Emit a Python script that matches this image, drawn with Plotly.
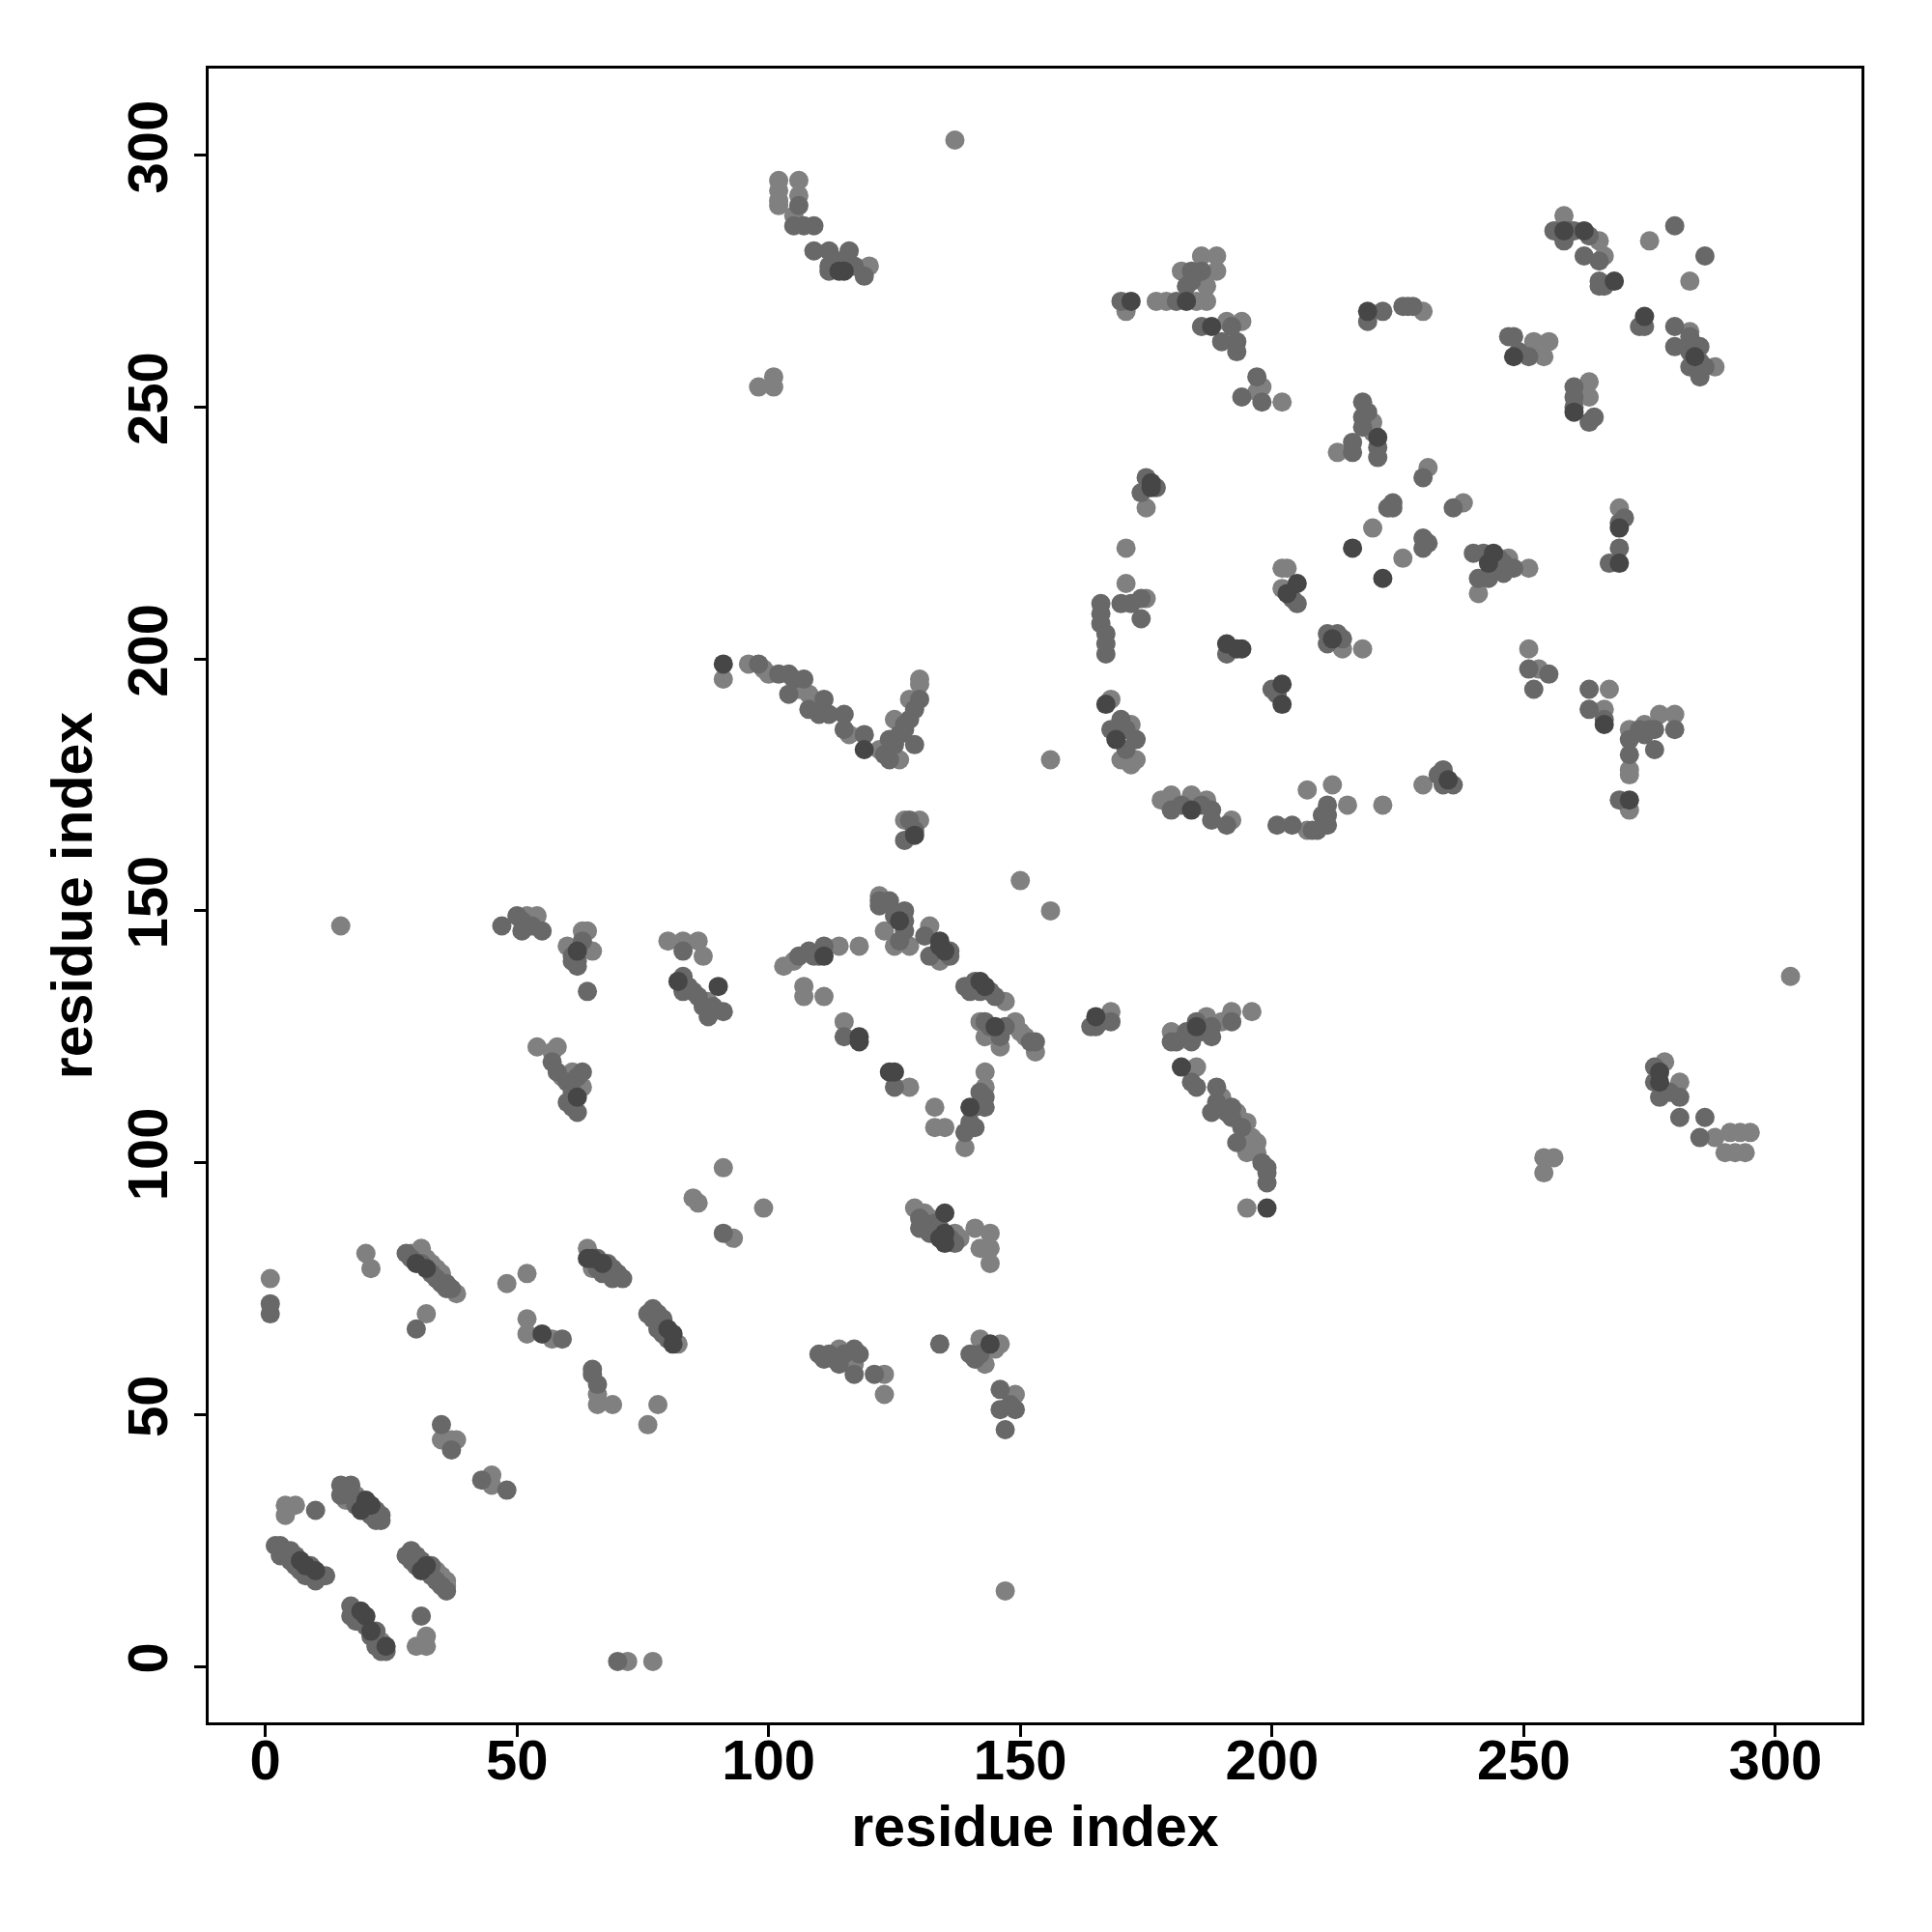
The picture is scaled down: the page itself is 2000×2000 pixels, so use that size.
import plotly.graph_objects as go

# Contact pairs (residue i, residue j), grouped by contact strength (grey shade)
contacts_weak = [
    (1,77),(20,82),(21,79),(32,70),(48,76),(52,78),(52,69),(52,66),(57,65),
    (29,82),(31,83),(32,81),(33,80),(34,79),(35,78),(38,74),
    (64,83),(65,79),(82,64),(66,54),(66,52),(69,52),(78,52),(76,48),
    (35,45),(37,45),(38,45),(45,38),(45,36),(4,32),(6,32),(4,30),
    (16,35),(18,34),(16,33),(34,19),(35,18),(36,17),(36,16),
    (32,6),(30,4),(32,4),(23,5),(72,1),(77,1),
    (85,93),(86,92),(93,85),(99,91),(91,99),
    (129,91),(131,90),(132,89),(137,86),(138,85),(141,87),(144,86),(142,83),(144,83),(144,80),
    (114,63),(116,61),(117,60),(123,58),(123,54),(142,65),(146,64),(145,63),(143,60),(149,54),
    (147,15),(195,91),
    (15,147),(52,149),(54,149),(60,143),(63,146),(64,146),(65,142),
    (80,144),(83,144),(86,144),(87,141),(88,132),
    (54,123),(57,122),(58,123),(59,117),(61,118),(63,115),
    (91,196),(96,199),(99,198),(100,197),(106,194),(108,193),(116,185),(122,182),(126,180),
    (125,188),(128,192),(130,195),(130,196),(156,180),
    (127,168),(130,168),(150,156),(156,150),
    (122,153),(123,146),(125,143),(128,143),(132,147),(134,140),
    (103,139),(105,140),(114,143),(118,143),(107,135),(107,133),(111,133),(115,128),
    (128,115),(133,111),(133,107),(135,107),(143,118),(143,115),(139,103),(147,132),
    (146,123),(149,128),(150,126),(153,122),(143,125),(142,128),(151,125),(168,130),
    (180,126),(187,129),(192,130),(196,130),(190,128),
    (185,119),(190,113),(193,110),(195,108),(196,105),(197,104),(197,102),(195,102),
    (168,192),(172,187),(173,180),(172,179),(170,180),
    (178,172),(180,173),(184,173),(187,172),(192,168),(207,174),(207,166),
    (214,202),(218,202),(251,202),(253,198),
    (267,194),(266,190),(271,186),(274,187),(277,189),(280,189),(271,178),(271,177),(271,170),
    (230,175),(212,175),(215,171),(222,171),(303,137),
    (278,120),(281,116),(288,105),(291,106),(295,106),(290,102),(294,102),(292,102),(293,106),
    (254,101),(256,101),(254,98),
    (137,303),(102,295),(106,295),(102,293),(102,291),(102,290),(106,292),(105,288),(120,278),
    (101,256),(101,254),(98,254),(171,269),
    (177,271),(179,271),(185,271),(187,271),(186,280),(189,280),(189,277),(182,277),(187,274),
    (191,267),(194,267),(198,254),(202,251),(197,253),(175,230),(171,222),(171,215),(175,212),
    (202,218),(203,218),(202,214),
    (258,288),(258,286),(265,283),(266,280),(275,283),(283,275),(283,265),(288,258),
    (230,269),(252,263),(255,263),(254,260),(263,255),(263,252),
    (220,247),(220,245),(213,241),(231,238),(238,231),(220,226),(226,220),
    (247,220),(251,218),(241,213),(269,230),
]

contacts_mid = [
    (1,72),(1,70),(30,67),(59,65),
    (28,82),(29,81),(31,80),(33,78),(34,77),(35,76),(36,76),(36,75),(37,75),
    (66,81),(66,79),(68,80),(68,78),(69,79),(69,77),(70,78),(71,77),(67,78),
    (76,70),(77,71),(77,69),(78,70),(78,68),(79,68),(79,66),(80,65),(78,67),(79,69),
    (65,59),(65,58),(66,56),(35,48),(37,43),(43,37),(48,35),(10,31),
    (15,36),(15,34),(17,36),(17,34),(18,32),(19,33),(20,31),(21,30),(22,31),(22,29),(23,30),(23,29),
    (2,24),(3,24),(3,22),(4,23),(5,23),(5,21),(6,22),(6,20),(7,19),(8,18),(9,20),(9,18),(10,17),(11,18),(12,18),
    (28,22),(29,23),(29,21),(30,22),(30,20),(31,21),(33,20),(33,18),(34,17),(35,16),(36,15),
    (31,10),(17,12),(17,10),(18,11),(18,9),(19,9),(20,8),(21,6),(22,7),(22,5),(22,4),(23,4),(23,3),(24,3),
    (70,1),(91,86),
    (130,89),(131,88),(133,88),(134,87),(136,85),(137,84),(132,86),(130,87),
    (110,62),(111,61),(112,62),(113,61),(114,60),(115,62),(117,63),(117,58),(118,62),(121,58),
    (134,64),(140,62),(142,62),(141,61),
    (146,55),(146,51),(148,52),(149,51),(147,47),(199,96),(199,98),
    (47,147),(50,149),(51,148),(51,146),(53,147),(55,146),
    (61,141),(62,140),(63,144),(61,140),(62,139),(64,134),(83,142),
    (83,137),(83,134),(84,135),(85,134),(86,133),(87,131),(89,131),(88,129),(91,130),
    (57,120),(58,118),(60,116),(61,114),(62,117),(63,118),(61,111),(62,110),(60,112),
    (98,199),(102,197),(104,197),(105,196),(107,196),(104,193),(108,190),(111,192),(110,189),
    (112,189),(115,189),(115,186),(119,185),(123,181),(124,180),(124,184),(125,183),(126,185),
    (127,186),(128,188),(127,187),(129,190),(130,192),(129,183),
    (127,164),(129,166),(128,168),
    (124,152),(127,150),(127,148),(127,146),(122,152),(122,151),(125,149),(126,144),
    (136,142),(132,141),(131,145),(136,141),
    (106,141),(108,142),(110,141),(111,143),(109,141),(115,125),(125,115),
    (142,114),(143,113),(141,111),(143,111),(141,107),(140,108),(139,106),
    (141,136),(144,134),(139,135),(140,134),(142,134),(145,133),
    (143,128),(144,127),(146,125),(152,124),(153,124),(147,127),
    (168,128),(164,127),(166,128),(165,127),
    (181,124),(180,124),(185,128),(188,127),(192,128),(186,126),(183,126),(188,125),(184,124),
    (185,115),(184,116),(189,115),(189,112),(191,110),(192,111),(192,109),(194,107),(193,104),
    (198,100),(199,99),(188,110),
    (166,211),(166,209),(166,207),(167,205),(167,203),(167,201),(191,201),(200,194),(201,193),
    (170,188),(173,184),(171,182),(168,186),(171,186),
    (180,170),(182,171),(188,170),(188,168),(191,167),(186,171),
    (201,167),(204,167),(210,169),(209,166),
    (211,205),(213,205),(214,204),(211,203),(251,198),(255,197),(252,194),
    (263,194),(263,190),(266,188),(280,186),(276,186),(276,182),(271,184),(271,181),(269,172),
    (274,185),(275,186),(273,186),
    (234,178),(236,175),(234,175),(233,177),(211,171),(211,167),(208,166),(211,169),
    (276,119),(281,113),(277,113),(281,109),(276,116),(279,114),(286,109),(285,105),
    (106,290),(105,286),(109,286),(107,286),(109,281),(112,281),(116,281),(112,278),(112,277),
    (119,276),(117,278),(114,279),(170,271),
    (181,271),(184,277),(186,277),(183,274),(184,275),(186,266),(190,263),(193,263),(193,261),(192,266),
    (197,256),(194,252),(198,251),(175,236),(177,234),(174,233),
    (174,212),(170,211),(174,208),(172,211),(205,211),(204,212),
    (256,285),(259,285),(260,285),(262,280),(265,279),(265,275),(265,274),(258,283),(266,274),(263,284),
    (280,286),(286,280),
    (274,266),(273,266),(280,266),(280,262),(285,262),(285,259),(283,258),(285,256),(283,261),(286,258),(283,264),
    (222,269),(219,267),(226,270),(227,270),(228,270),
    (247,264),(248,264),(251,260),(249,261),
    (260,254),(260,252),(264,248),(263,247),(260,250),
    (218,251),(218,248),(221,242),(221,240),(216,243),(216,241),(218,246),(219,249),
    (230,236),(223,230),(224,231),(224,230),(236,230),(230,224),(231,223),(230,222),
    (240,221),(242,221),(245,220),(248,218),(241,216),(243,216),(246,217),(244,218),(246,219),
    (270,228),(269,227),(269,222),(267,219),
]

contacts_strong = [
    (55,66),(30,80),(32,79),(64,81),(65,81),(67,80),(80,67),(81,66),(81,64),
    (20,33),(21,32),(19,31),(7,21),(8,20),(10,19),(31,19),(32,20),
    (19,11),(20,10),(21,7),(24,4),
    (135,86),(135,90),(134,85),(135,84),(144,64),(199,91),
    (62,142),(82,136),(90,135),(62,113),
    (91,199),(119,182),(129,165),(126,148),(134,144),(134,143),(135,142),
    (111,141),(118,125),(118,124),(124,118),(125,118),(140,111),(142,136),(143,135),
    (145,127),(165,129),(185,127),(182,119),
    (191,203),(194,202),(193,202),(202,195),(202,191),(167,191),(169,184),(184,170),
    (212,204),(266,187),(271,172),(235,176),(277,116),(277,118),
    (115,277),(114,277),(172,271),(183,271),(188,266),(176,235),(176,234),(205,215),(203,213),
    (258,285),(262,285),(268,275),(274,268),(284,260),(219,269),(248,260),(260,249),(221,244),
    (216,222),(222,216),(244,221),(243,219),(269,226),(269,219),
]

groups = [
    ("weak", contacts_weak, "#808080"),
    ("mid", contacts_mid, "#686868"),
    ("strong", contacts_strong, "#464646"),
]

tick_values = [0, 50, 100, 150, 200, 250, 300]
axis_title = "residue index"

fig = go.Figure()
for name, pairs, color in groups:
    fig.add_trace(go.Scatter(
        x=[p[0] for p in pairs],
        y=[p[1] for p in pairs],
        mode="markers",
        name=name,
        marker=dict(size=20, color=color, line=dict(width=0)),
        showlegend=False,
    ))

font_family = "Liberation Sans, Arial, sans-serif"
common = dict(
    showgrid=False, zeroline=False,
    showline=True, mirror=True, linecolor="black", linewidth=3,
    ticks="outside", ticklen=12, tickwidth=3, tickcolor="black",
    tickvals=tick_values,
    tickfont=dict(family=font_family, size=58, color="black", weight="bold"),
)

fig.update_layout(
    width=2000, height=2000,
    margin=dict(l=208, r=81, t=63, b=225),
    paper_bgcolor="white", plot_bgcolor="white",
    xaxis=dict(range=[-11.24, 317.1], ticklabelstandoff=-26,
               title=dict(text=axis_title, standoff=18,
                          font=dict(family=font_family, size=59, color="black", weight="bold")),
               **common),
    yaxis=dict(range=[-11.1, 317.2], tickangle=-90, ticklabelstandoff=5,
               title=dict(text=axis_title, standoff=6,
                          font=dict(family=font_family, size=59, color="black", weight="bold")),
               **common),
)

fig.write_html("out.html")
